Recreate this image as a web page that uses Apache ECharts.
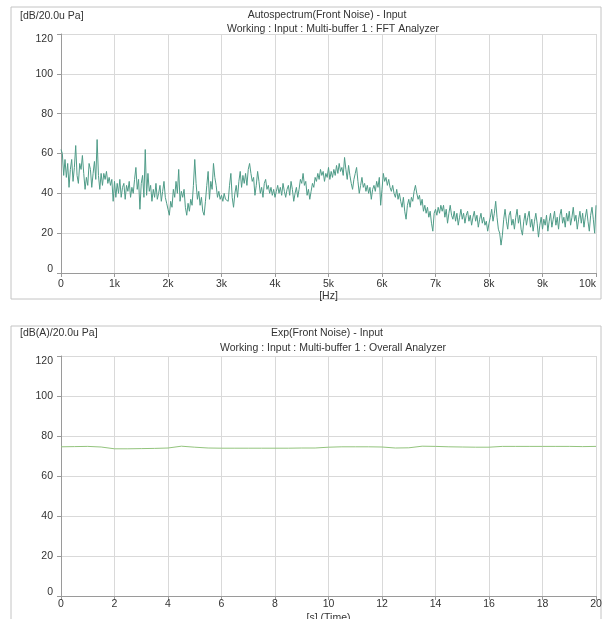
<!DOCTYPE html>
<html>
<head>
<meta charset="utf-8">
<script src="https://cdn.jsdelivr.net/npm/echarts@6/dist/echarts.min.js"></script>
<style>
html, body { margin: 0; padding: 0; background: #fff; }
#chart { width: 605px; height: 619px; }
</style>
</head>
<body>
<div id="chart"></div>
<script>
// autospectrum, one value every 25 Hz from 0 to 10 kHz
var specStepHz = 25;
var specDb = [
	62,60,49,57,48,55,43,52,57,46,53,64,49,45,55,52,59,50,42,48,
	44,55,52,43,50,56,47,67,49,42,50,44,50,47,51,45,48,44,47,36,
	46,38,45,40,47,38,43,45,37,44,41,46,38,43,40,47,53,42,47,32,
	45,49,38,62,39,50,41,44,36,42,38,45,37,40,44,36,41,46,38,35,
	32,29,36,33,42,38,46,40,52,36,41,38,42,33,29,35,31,37,34,44,
	57,45,37,41,34,38,31,29,36,44,51,37,46,42,55,48,44,38,41,37,
	39,36,40,37,38,36,44,50,38,33,40,44,38,46,51,43,49,45,50,44,
	52,55,50,46,48,39,44,51,46,40,43,38,45,47,42,44,40,43,39,42,
	38,41,44,40,43,39,45,41,38,42,44,39,46,42,36,40,43,38,42,47,
	45,50,44,46,39,42,37,41,45,43,48,46,50,47,52,49,51,46,50,48,
	53,47,51,48,52,49,54,50,55,51,53,49,58,52,47,54,49,45,42,47,
	50,53,46,40,44,48,43,45,41,44,40,43,37,42,44,41,46,43,48,34,
	42,50,46,48,44,47,43,41,44,40,38,42,37,40,36,33,38,31,27,34,
	37,33,38,36,41,44,40,37,39,34,37,31,34,30,33,28,31,25,21,30,
	32,29,33,30,34,31,34,28,32,25,30,34,29,27,31,26,30,24,28,32,
	27,30,25,29,31,26,29,24,28,31,26,29,23,27,30,25,28,24,26,21,
	25,28,32,26,30,36,28,22,20,14,19,27,32,26,22,29,31,24,27,22,
	28,32,25,29,22,19,26,30,24,28,31,23,27,21,26,30,25,18,24,28,
	22,27,24,29,21,26,30,23,27,31,24,28,22,29,32,25,28,23,30,26,
	31,24,28,33,26,29,22,27,31,25,30,23,28,32,26,21,29,33,27,20,
	34
];

// overall level, one value every 0.5 s from 0 to 20 s
var levelStepS = 0.5;
var levelDbA = [
	74.6,74.7,74.8,74.5,73.6,73.6,73.7,73.8,74.0,74.9,74.4,74.0,73.9,73.9,73.9,73.9,73.9,73.9,74.0,74.0,
	74.4,74.6,74.6,74.6,74.5,74.0,74.1,74.9,74.8,74.6,74.5,74.4,74.4,74.8,74.8,74.8,74.8,74.8,74.8,74.7,
	74.8
];

var hzTicks = ['0','1k','2k','3k','4k','5k','6k','7k','8k','9k','10k'];

function pairs(step, vals){
	var out = [];
	for(var i=0; i<vals.length; i++){
		out.push([+(i*step).toFixed(3), vals[i]]);
	}
	return out;
}

var font = "'Liberation Sans', sans-serif";
var fs = 10.5;
var txt = '#333';
var gridColor = '#d9d9d9';

function yLabel(v){
	if(v === 120) return '{top|120}';
	if(v === 0) return '{bot|0}';
	return v;
}

function yAxis(idx){
	return {
		gridIndex: idx,
		type: 'value',
		min: 0, max: 120, interval: 20,
		axisLine: {show: true, lineStyle: {color: '#9a9a9a'}},
		axisTick: {show: true, length: 4, lineStyle: {color: '#9a9a9a'}},
		splitLine: {show: true, lineStyle: {color: gridColor, width: 1}},
		axisLabel: {
			color: txt, fontFamily: font, fontSize: fs, margin: 8,
			formatter: yLabel,
			rich: {
				top: {color: txt, fontFamily: font, fontSize: fs, padding: [11,0,0,0]},
				bot: {color: txt, fontFamily: font, fontSize: fs, padding: [0,0,7,0]}
			}
		}
	};
}

function ttl(text, left, top, center){
	var t = {text: text, left: left, top: top,
		textStyle: {color: txt, fontFamily: font, fontSize: fs, fontWeight: 'normal'}};
	if(center) t.textAlign = 'center';
	return t;
}

var chart = echarts.init(document.getElementById('chart'));

var option = {
	backgroundColor: '#fff',
	animation: false,
	graphic: [
		{type: 'rect', shape: {x: 11, y: 7, width: 590, height: 292}, style: {fill: 'none', stroke: '#c4c4c4', lineWidth: 1}},
		{type: 'rect', shape: {x: 11, y: 326, width: 590, height: 300}, style: {fill: 'none', stroke: '#c4c4c4', lineWidth: 1}}
	],
	title: [
		ttl('[dB/20.0u Pa]', 15, 6),
		ttl('Autospectrum(Front Noise) - Input', 322, 5, true),
		ttl('Working : Input : Multi-buffer 1 : FFT Analyzer', 328, 19, true),
		ttl('[dB(A)/20.0u Pa]', 15, 323),
		ttl('Exp(Front Noise) - Input', 322, 323, true),
		ttl('Working : Input : Multi-buffer 1 : Overall Analyzer', 328, 338, true)
	],
	grid: [
		{left: 61, right: 9, top: 34, height: 239, outerBoundsMode: 'none'},
		{left: 61, right: 9, top: 356, height: 240, outerBoundsMode: 'none'}
	],
	xAxis: [
		{
			gridIndex: 0, type: 'value', min: 0, max: 10000, interval: 1000,
			name: '[Hz]', nameLocation: 'middle', nameGap: 17,
			nameTextStyle: {color: txt, fontFamily: font, fontSize: fs},
			axisLine: {show: true, lineStyle: {color: '#9a9a9a'}},
			axisTick: {show: true, length: 4, lineStyle: {color: '#9a9a9a'}},
			splitLine: {show: true, lineStyle: {color: gridColor, width: 1}},
			axisLabel: {
				color: txt, fontFamily: font, fontSize: fs, margin: 6, alignMaxLabel: 'right',
				formatter: function(v){ return hzTicks[Math.round(v/1000)]; }
			}
		},
		{
			gridIndex: 1, type: 'value', min: 0, max: 20, interval: 2,
			name: '[s] (Time)', nameLocation: 'middle', nameGap: 17,
			nameTextStyle: {color: txt, fontFamily: font, fontSize: fs},
			axisLine: {show: true, lineStyle: {color: '#9a9a9a'}},
			axisTick: {show: true, length: 4, lineStyle: {color: '#9a9a9a'}},
			splitLine: {show: true, lineStyle: {color: gridColor, width: 1}},
			axisLabel: {color: txt, fontFamily: font, fontSize: fs, margin: 3}
		}
	],
	yAxis: [yAxis(0), yAxis(1)],
	series: [
		{
			type: 'line', xAxisIndex: 0, yAxisIndex: 0,
			data: pairs(specStepHz, specDb),
			showSymbol: false,
			lineStyle: {color: '#4f9c88', width: 1}
		},
		{
			type: 'line', xAxisIndex: 1, yAxisIndex: 1,
			data: pairs(levelStepS, levelDbA),
			showSymbol: false,
			lineStyle: {color: '#93c47d', width: 1}
		}
	]
};

chart.setOption(option);
</script>
</body>
</html>
